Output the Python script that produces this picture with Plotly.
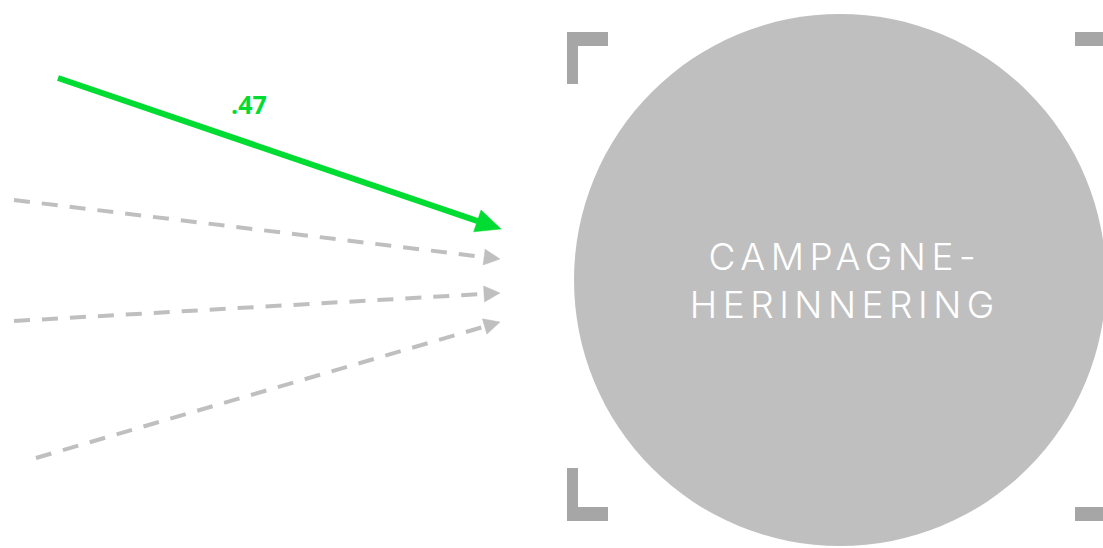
import numpy as np
import plotly.graph_objects as go

# ---- data (pixel-space diagram coordinates) ----
path_x_start = [58, 14, 14, 36]
path_y_start = [78, 200, 321, 458]
path_x_end = [501, 500, 500, 500]
path_y_end = [229, 259, 293, 322]
path_labels = [".47", "", "", ""]
path_significant = [True, False, False, False]

node_label = "CAMPAGNE-<br>HERINNERING"
node_cx = [840]
node_cy = [280]
node_r = [266]

# bracket rectangles (x0, x1, y0, y1)
bracket_x0 = [567, 567, 1075, 567, 567, 1075]
bracket_x1 = [578, 608, 1110, 578, 608, 1110]
bracket_y0 = [32, 32, 32, 468, 507, 507]
bracket_y1 = [84, 46, 46, 521, 521, 521]

W, H = 1103, 548
GREEN = "#00dc32"
GREY = "#bfbfbf"
BRACKET = "#a6a6a6"

fig = go.Figure()

for xs, ys, xe, ye, lab, sig in zip(path_x_start, path_y_start, path_x_end,
                                    path_y_end, path_labels, path_significant):
    d = np.array([xe - xs, ye - ys], dtype=float)
    L = np.hypot(*d)
    u = d / L
    n = np.array([-u[1], u[0]])
    if sig:
        hl, hw, lw, col, dash = 25, 23, 6, GREEN, "solid"
    else:
        hl, hw, lw, col, dash = 16, 16, 4, GREY, "16px,12px"
    tip = np.array([xe, ye], dtype=float)
    base = tip - u * hl
    fig.add_trace(go.Scatter(x=[xs, base[0] + u[0] * 2], y=[ys, base[1] + u[1] * 2],
                             mode="lines", line=dict(color=col, width=lw, dash=dash),
                             hoverinfo="skip", showlegend=False))
    p1 = base + n * hw / 2
    p2 = base - n * hw / 2
    fig.add_trace(go.Scatter(x=[tip[0], p1[0], p2[0], tip[0]],
                             y=[tip[1], p1[1], p2[1], tip[1]],
                             mode="lines", fill="toself", fillcolor=col,
                             line=dict(color=col, width=0.5),
                             hoverinfo="skip", showlegend=False))
    if lab:
        fig.add_annotation(x=(xs + xe) / 2 - 31, y=(ys + ye) / 2 - 50, text="<b>" + lab + "</b>",
                           showarrow=False, font=dict(family="Open Sans", size=25, color=col),
                           xref="x", yref="y")

shapes = []
for cx, cy, r in zip(node_cx, node_cy, node_r):
    shapes.append(dict(type="circle", xref="x", yref="y", x0=cx - r, x1=cx + r,
                       y0=cy - r, y1=cy + r, fillcolor=GREY, line=dict(width=0),
                       layer="below"))
for x0, x1, y0, y1 in zip(bracket_x0, bracket_x1, bracket_y0, bracket_y1):
    shapes.append(dict(type="rect", xref="x", yref="y", x0=x0, x1=x1, y0=y0, y1=y1,
                       fillcolor=BRACKET, line=dict(width=0), layer="below"))

fig.add_annotation(x=node_cx[0] + 5, y=node_cy[0], text=node_label, showarrow=False,
                   xref="x", yref="y",
                   font=dict(family="Inter", size=37, color="white", weight=300))

fig.update_layout(
    width=W, height=H, margin=dict(l=0, r=0, t=0, b=0),
    paper_bgcolor="white", plot_bgcolor="white",
    xaxis=dict(range=[0, W], visible=False, fixedrange=True),
    yaxis=dict(range=[H, 0], visible=False, fixedrange=True),
    shapes=shapes, showlegend=False,
)

post = """
document.body.style.margin = '0';
document.body.style.overflow = 'hidden';
function _ls(){
  document.querySelectorAll('.annotation-text').forEach(function(t){
    if (t.textContent.indexOf('HERINNERING') >= 0) { t.style.letterSpacing = '5.5px'; }
  });
}
_ls(); setTimeout(_ls, 50); setTimeout(_ls, 300);
"""

fig.write_html("out.html", config={"displayModeBar": False}, post_script=post)
